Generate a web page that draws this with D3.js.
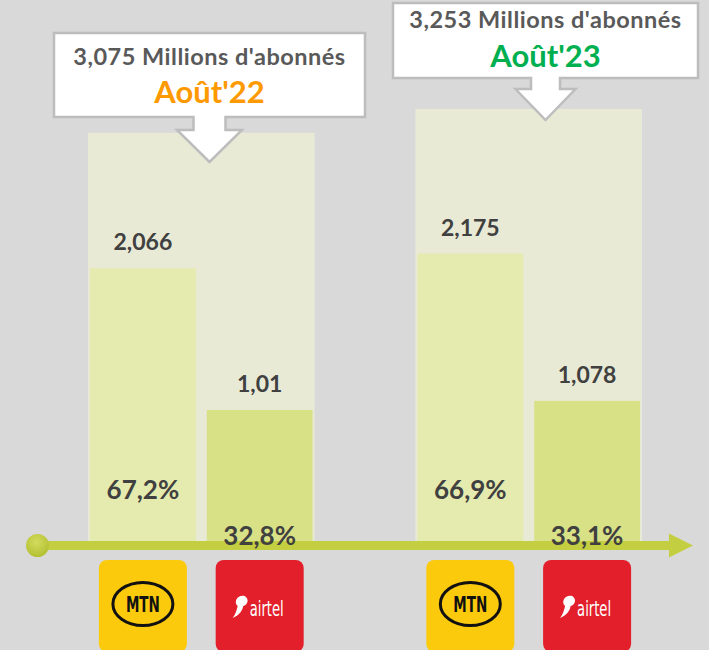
<!DOCTYPE html>
<html>
<head>
<meta charset="utf-8">
<script src="https://cdn.jsdelivr.net/npm/d3@7"></script>
<style>
  html, body { margin: 0; padding: 0; background: #d9d9d9; }
  svg { display: block; font-family: Lato, "Open Sans", sans-serif; }
</style>
</head>
<body>
<div class="layout"></div>
<script>
// data
var periods = ["Août'22", "Août'23"];
var totals = [3.075, 3.253];
var operators = ["MTN", "airtel"];
var mtnValues = [2.066, 2.175];
var airtelValues = [1.01, 1.078];
var mtnShares = [67.2, 66.9];
var airtelShares = [32.8, 33.1];
var periodColors = ["#ff9900", "#00b050"];

var width = 709, height = 650;
var baseY = 545.5;

var frNum = function(v) { return String(v).replace(".", ","); };
var frPct = function(v) { return d3.format(".1f")(v).replace(".", ",") + "%"; };

var x = d3.scaleBand()
        .domain(periods)
        .range([88, 642])
        .paddingInner(0.308);

var xOp = d3.scaleBand()
        .domain(operators)
        .range([2, x.bandwidth() - 2])
        .paddingInner(0.094);

var y = d3.scaleLinear()
        .domain([0, 3])
        .range([baseY, baseY - 3 * 134.2]);

var svg = d3.select(".layout").append("svg")
        .attr("width", width)
        .attr("height", height);

var defs = svg.append("defs");
var grad = defs.append("radialGradient").attr("id", "knob")
        .attr("cx", "45%").attr("cy", "35%").attr("r", "65%");
grad.append("stop").attr("offset", "0%").attr("stop-color", "#d3dc5e");
grad.append("stop").attr("offset", "100%").attr("stop-color", "#b4c032");

var rows = periods.map(function(p, i) {
        return {
                period: p,
                total: totals[i],
                bars: [
                        { op: "MTN", value: mtnValues[i], share: mtnShares[i], fill: "#e5ebae" },
                        { op: "airtel", value: airtelValues[i], share: airtelShares[i], fill: "#d9e187" }
                ]
        };
});

// total panels
var groups = svg.selectAll("g.period")
        .data(rows)
        .enter().append("g")
        .attr("class", "period")
        .attr("transform", function(d) { return "translate(" + x(d.period) + ",0)"; });

groups.append("rect")
        .attr("x", 0)
        .attr("y", function(d) { return y(d.total); })
        .attr("width", x.bandwidth())
        .attr("height", function(d) { return baseY - y(d.total); })
        .attr("fill", "#e8ead6");

var bars = groups.selectAll("g.bar")
        .data(function(d) { return d.bars; })
        .enter().append("g")
        .attr("class", "bar");

bars.append("rect")
        .attr("x", function(d) { return xOp(d.op); })
        .attr("y", function(d) { return y(d.value); })
        .attr("width", xOp.bandwidth())
        .attr("height", function(d) { return baseY - y(d.value); })
        .attr("fill", function(d) { return d.fill; });

bars.append("text")
        .attr("x", function(d) { return xOp(d.op) + xOp.bandwidth() / 2; })
        .attr("y", function(d) { return y(d.value) - 18; })
        .attr("text-anchor", "middle")
        .attr("font-size", 23)
        .attr("font-weight", 700)
        .attr("fill", "#404040")
        .text(function(d) { return frNum(d.value); });

// operator logos
var logos = bars.append("g")
        .attr("transform", function(d) {
                return "translate(" + (xOp(d.op) + xOp.bandwidth() / 2) + ",604)";
        });

logos.append("rect")
        .attr("x", -44).attr("y", -44)
        .attr("width", 88).attr("height", 92)
        .attr("rx", 8)
        .attr("fill", function(d) { return d.op === "MTN" ? "#fcca0d" : "#e31f2b"; });

var mtn = logos.filter(function(d) { return d.op === "MTN"; });
mtn.append("ellipse")
        .attr("rx", 30).attr("ry", 21.5)
        .attr("fill", "none")
        .attr("stroke", "#111")
        .attr("stroke-width", 3);
mtn.append("text")
        .attr("y", 7.5)
        .attr("text-anchor", "middle")
        .attr("font-family", "'DejaVu Sans Condensed', 'Liberation Sans Narrow', sans-serif")
        .attr("font-weight", 700)
        .attr("font-size", 21)
        .attr("textLength", 34)
        .attr("lengthAdjust", "spacingAndGlyphs")
        .attr("fill", "#111")
        .text("MTN");

var airtel = logos.filter(function(d) { return d.op === "airtel"; });
airtel.append("path")
        .attr("d", "M-15,-8 C-21,-10 -27,-3 -22,2 C-23,6 -24,10 -27,14 C-20,11 -17,6 -16.5,2 C-12,1 -10,-5 -15,-8 Z")
        .attr("fill", "#fff");
airtel.append("text")
        .attr("x", 7)
        .attr("y", 12)
        .attr("text-anchor", "middle")
        .attr("font-family", "'DejaVu Sans Condensed', 'Liberation Sans Narrow', sans-serif")
        .attr("font-size", 22)
        .attr("textLength", 34)
        .attr("lengthAdjust", "spacingAndGlyphs")
        .attr("fill", "#fff")
        .text("airtel");

// axis line with knob and arrow head
svg.append("line")
        .attr("x1", 37).attr("x2", 671)
        .attr("y1", baseY).attr("y2", baseY)
        .attr("stroke", "#c3ce40")
        .attr("stroke-width", 9);
svg.append("path")
        .attr("d", "M669," + (baseY - 12) + "L693," + baseY + "L669," + (baseY + 12) + "Z")
        .attr("fill", "#c3ce40");
svg.append("circle")
        .attr("cx", 37.5).attr("cy", baseY).attr("r", 11.5)
        .attr("fill", "url(#knob)");

// share labels, drawn over the axis
var shareGroups = svg.selectAll("g.shares")
        .data(rows)
        .enter().append("g")
        .attr("class", "shares")
        .attr("transform", function(d) { return "translate(" + x(d.period) + ",0)"; });

shareGroups.selectAll("text")
        .data(function(d) { return d.bars; })
        .enter().append("text")
        .attr("x", function(d) { return xOp(d.op) + xOp.bandwidth() / 2; })
        .attr("y", function(d) { return d.op === "MTN" ? baseY - 46.5 : baseY - 0.5; })
        .attr("text-anchor", "middle")
        .attr("font-size", 26)
        .attr("font-weight", 700)
        .attr("fill", "#404040")
        .text(function(d) { return frPct(d.share); });

// callout boxes
var callouts = [
        { cx: 209.5, top: 33, w: 311, h: 84, stemW: 32, stemH: 13, headW: 65, headH: 32, l1: 32, l2: 70 },
        { cx: 545.5, top: 3, w: 305, h: 75, stemW: 29, stemH: 11, headW: 60, headH: 31, l1: 25, l2: 64 }
];

function calloutPath(c) {
        var l = c.cx - c.w / 2, r = c.cx + c.w / 2, b = c.top + c.h;
        var hb = b + c.stemH;
        return "M" + l + "," + c.top + "H" + r + "V" + b +
                "H" + (c.cx + c.stemW / 2) + "V" + hb + "H" + (c.cx + c.headW / 2) +
                "L" + c.cx + "," + (hb + c.headH) + "L" + (c.cx - c.headW / 2) + "," + hb +
                "H" + (c.cx - c.stemW / 2) + "V" + b + "H" + l + "Z";
}

var co = svg.selectAll("g.callout")
        .data(rows)
        .enter().append("g")
        .attr("class", "callout");

co.append("path")
        .attr("d", function(d, i) { return calloutPath(callouts[i]); })
        .attr("fill", "#fff")
        .attr("stroke", "#bdbdbd")
        .attr("stroke-width", 2.5);

co.append("text")
        .attr("x", function(d, i) { return callouts[i].cx; })
        .attr("y", function(d, i) { return callouts[i].top + callouts[i].l1; })
        .attr("text-anchor", "middle")
        .attr("font-size", 23.5)
        .attr("font-weight", 700)
        .attr("letter-spacing", 0.5)
        .attr("fill", "#595959")
        .text(function(d) { return frNum(d.total) + " Millions d'abonnés"; });

co.append("text")
        .attr("x", function(d, i) { return callouts[i].cx; })
        .attr("y", function(d, i) { return callouts[i].top + callouts[i].l2; })
        .attr("text-anchor", "middle")
        .attr("font-size", 31)
        .attr("font-weight", 700)
        .attr("fill", function(d, i) { return periodColors[i]; })
        .text(function(d) { return d.period; });
</script>
</body>
</html>
